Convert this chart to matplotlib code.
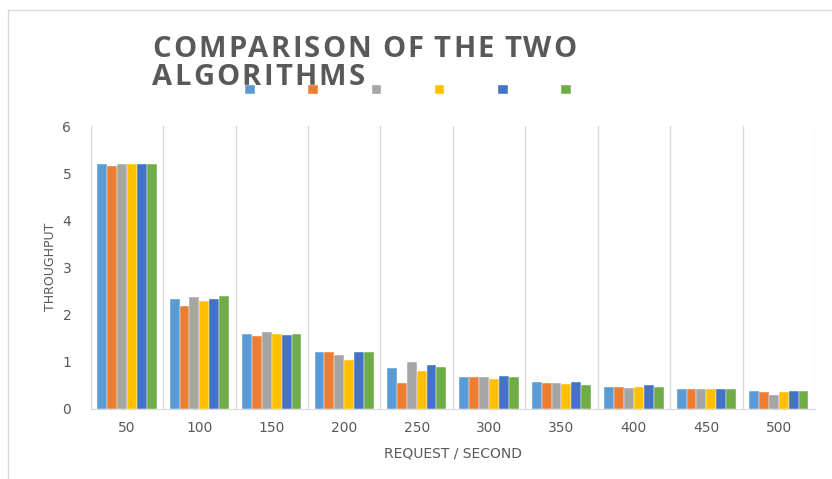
import matplotlib.pyplot as plt
import numpy as np
from matplotlib.patches import Rectangle

categories = ["50", "100", "150", "200", "250", "300", "350", "400", "450", "500"]
series1 = [5.20, 2.33, 1.59, 1.19, 0.85, 0.66, 0.56, 0.46, 0.41, 0.37]
series2 = [5.16, 2.18, 1.54, 1.19, 0.54, 0.66, 0.54, 0.46, 0.41, 0.34]
series3 = [5.20, 2.36, 1.62, 1.14, 0.98, 0.66, 0.54, 0.43, 0.41, 0.28]
series4 = [5.20, 2.28, 1.59, 1.04, 0.80, 0.63, 0.51, 0.46, 0.41, 0.34]
series5 = [5.20, 2.33, 1.56, 1.19, 0.93, 0.68, 0.56, 0.49, 0.41, 0.37]
series6 = [5.20, 2.40, 1.59, 1.19, 0.88, 0.66, 0.49, 0.46, 0.41, 0.37]
yticks = [0, 1, 2, 3, 4, 5, 6]
title_lines = ["COMPARISON OF THE TWO", "ALGORITHMS"]

colors = ["#5B9BD5", "#ED7D31", "#A5A5A5", "#FFC000", "#4472C4", "#70AD47"]
txt = "#595959"

W, H = 832, 479
fig = plt.figure(figsize=(W / 100, H / 100), dpi=100)
ax = fig.add_axes([90.7 / W, 1 - 408.5 / H, (815 - 90.7) / W, (408.5 - 126) / H])

# outer chart border
fig.patches.append(Rectangle((8 / W, -0.1), 1.2, 1 - 10 / H + 0.1,
                             transform=fig.transFigure, fill=False,
                             edgecolor="#D9D9D9", linewidth=1))

all_series = [series1, series2, series3, series4, series5, series6]
x = np.arange(len(categories))
w = 0.82 / len(all_series)
handles = []
for i, (vals, c) in enumerate(zip(all_series, colors)):
    b = ax.bar(x + (i - 2.5) * w, vals, width=w, color=c, edgecolor="white", linewidth=0.3)
    handles.append(b)

ax.set_xlim(-0.5, len(categories) - 0.5)
ax.set_ylim(0, 6)
ax.set_xticks(x)
ax.set_xticklabels(categories)
ax.set_yticks(yticks)
ax.set_xticks(np.arange(-0.5, len(categories)), minor=True)
ax.grid(which="minor", axis="x", color="#D9D9D9", linewidth=1)
ax.tick_params(which="both", length=0)
ax.tick_params(axis="x", pad=9)
ax.tick_params(axis="y", pad=14)
for lab in ax.get_xticklabels() + ax.get_yticklabels():
    lab.set_color(txt)
    lab.set_fontsize(10)
for s in ["top", "right", "left"]:
    ax.spines[s].set_visible(False)
ax.spines["bottom"].set_color("#D9D9D9")
ax.set_axisbelow(True)

ax.set_xlabel("REQUEST / SECOND", color=txt, fontsize=10, labelpad=8)
ax.set_ylabel("THROUGHPUT", color=txt, fontsize=9, labelpad=4)

# title drawn letter by letter so it can be spaced out
renderer = fig.canvas.get_renderer()
spacing = 2.2
for row, line in enumerate(title_lines):
    xpos = 152
    ybase = H - (57 + 28 * row)
    for ch in line:
        t = fig.text(xpos / W, ybase / H, ch, fontsize=21, fontweight="bold",
                     family="Open Sans", color=txt, ha="left", va="baseline")
        if ch == " ":
            adv = 6
        else:
            adv = t.get_window_extent(renderer).width
        xpos += adv + spacing

fig.legend(handles, [""] * 6, ncol=6, loc="center",
           bbox_to_anchor=(408 / W, 1 - 90 / H), frameon=False,
           handlelength=0.7, handleheight=0.6, handletextpad=0,
           columnspacing=3.85, fontsize=10)

fig.savefig("out.png", dpi=100)
